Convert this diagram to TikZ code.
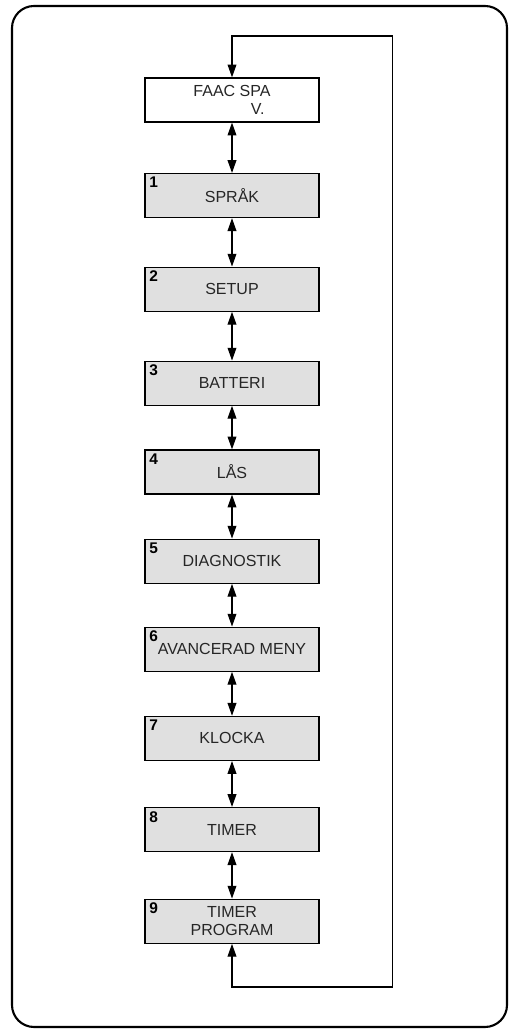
\documentclass[tikz,border=0pt]{standalone}
\usepackage{fontspec}
\setmainfont{Liberation Sans}
\usetikzlibrary{arrows.meta}

\definecolor{menugray}{RGB}{224,224,224}
\tikzset{
	menu/.style={draw, line width=0.9pt, fill=menugray, minimum width=4.35cm, minimum height=1.1cm, align=center, font=\fontsize{11.4}{13}\selectfont, text=black!85},
	top/.style={menu, fill=white},
	num/.style={anchor=north west, inner sep=0pt, xshift=0.12cm, yshift=-0.1cm, font=\fontsize{11}{12}\selectfont\bfseries},
	link/.style={line width=0.8pt, {Triangle[length=3.2mm, width=2.2mm]}-{Triangle[length=3.2mm, width=2.2mm]}}
}

\begin{document}
\begin{tikzpicture}
	\useasboundingbox (0,0) rectangle (12.75,25.75);
	\draw[line width=1.5pt, rounded corners=0.55cm] (0.3,0.075) rectangle (12.675,25.6);

	\node[top] (faac) at (5.8,23.25) {FAAC SPA\\\hspace*{3.2em}V.};
	\node[menu, label={[num]north west:1}] (b1) at (5.8,20.86) {SPRÅK};
	\node[menu, label={[num]north west:2}] (b2) at (5.8,18.52) {SETUP};
	\node[menu, label={[num]north west:3}] (b3) at (5.8,16.17) {BATTERI};
	\node[menu, label={[num]north west:4}] (b4) at (5.8,13.95) {LÅS};
	\node[menu, label={[num]north west:5}] (b5) at (5.8,11.72) {DIAGNOSTIK};
	\node[menu, label={[num]north west:6}] (b6) at (5.8,9.52) {AVANCERAD MENY};
	\node[menu, label={[num]north west:7}] (b7) at (5.8,7.29) {KLOCKA};
	\node[menu, label={[num]north west:8}] (b8) at (5.8,5.01) {TIMER};
	\node[menu, label={[num]north west:9}] (b9) at (5.8,2.72) {TIMER\\PROGRAM};

	\draw[link] (faac) -- (b1);
	\draw[link] (b1) -- (b2);
	\draw[link] (b2) -- (b3);
	\draw[link] (b3) -- (b4);
	\draw[link] (b4) -- (b5);
	\draw[link] (b5) -- (b6);
	\draw[link] (b6) -- (b7);
	\draw[link] (b7) -- (b8);
	\draw[link] (b8) -- (b9);

	% return line round the right side
	\coordinate (ret) at (9.82,1.075);
	\coordinate (rettop) at (9.82,24.85);
	\draw[link] (b9.south) |- (ret) -- (rettop) -| (faac.north);
\end{tikzpicture}
\end{document}
